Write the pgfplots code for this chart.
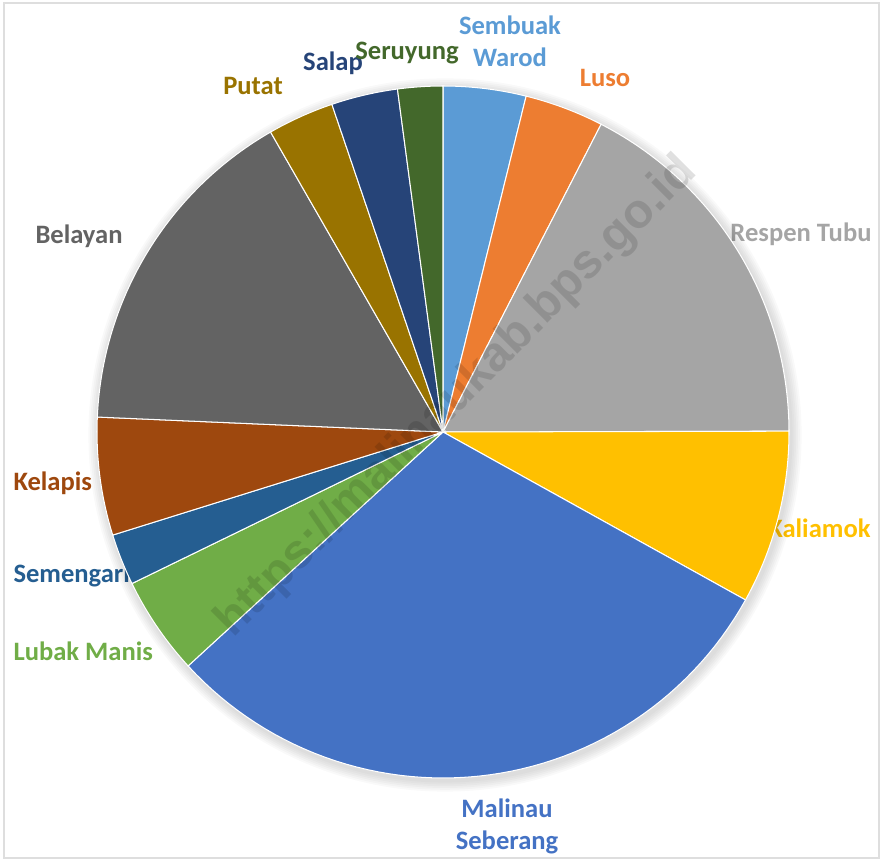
\documentclass[border=0pt]{standalone}
\usepackage{pgfplots}
\usepackage{pgfplotstable}
\usepackage{fontspec}
\setmainfont{Carlito}
\newfontfamily\wmfont{Liberation Sans}
\pgfplotsset{compat=1.18}

% slice shares, clockwise from 12 o'clock
\pgfplotstableread[col sep=comma]{
name,value
Sembuak Warod,3.86
Luso,3.69
Respen Tubu,17.4
Kaliamok,8.1
Malinau Seberang,30.1
Lubak Manis,4.6
Semengaris,2.4
Kelapis,5.5
Belayan,16.0
Putat,3.1
Salap,3.1
Seruyung,2.1
}\piedata

% cumulative angles
\xdef\pietotal{0}
\pgfplotstableforeachcolumnelement{value}\of\piedata\as\pieval{%
  \pgfmathsetmacro\tmp{\pietotal+\pieval}\xdef\pietotal{\tmp}}
\xdef\piecum{0}
\pgfplotstableforeachcolumnelement{value}\of\piedata\as\pieval{%
  \pgfmathsetmacro\tmp{90-360/\pietotal*\piecum}%
  \expandafter\xdef\csname sa\pgfplotstablerow\endcsname{\tmp}%
  \pgfmathsetmacro\tmp{\piecum+\pieval}\xdef\piecum{\tmp}%
  \pgfmathsetmacro\tmp{90-360/\pietotal*\piecum}%
  \expandafter\xdef\csname ea\pgfplotstablerow\endcsname{\tmp}}

\definecolor{c0}{HTML}{5B9BD5}
\definecolor{c1}{HTML}{ED7D31}
\definecolor{c2}{HTML}{A5A5A5}
\definecolor{c3}{HTML}{FFC000}
\definecolor{c4}{HTML}{4472C4}
\definecolor{c5}{HTML}{70AD47}
\definecolor{c6}{HTML}{255E91}
\definecolor{c7}{HTML}{9E480E}
\definecolor{c8}{HTML}{636363}
\definecolor{c9}{HTML}{997300}
\definecolor{c10}{HTML}{264478}
\definecolor{c11}{HTML}{43682B}

\begin{document}
\begin{tikzpicture}
\begin{axis}[
    scale only axis,
    width=12cm, height=11.7cm,
    xmin=0, xmax=881, ymin=0, ymax=859,
    hide axis, clip=false,
]
\draw[black!13, line width=0.8pt] (4,1) rectangle (879,856);

% labels
\begin{scope}[font=\fontsize{10.3}{12.4}\selectfont\bfseries, inner sep=0pt]
\node[text=c0, align=center] at (510,818) {Sembuak\\Warod};
\node[text=c1] at (605,781) {Luso};
\node[text=c2, anchor=east] at (872,625) {Respen Tubu};
\node[text=c3, anchor=east] at (871,331) {Kaliamok};
\node[text=c4, align=center] at (507,33) {Malinau\\Seberang};
\node[text=c5, anchor=west] at (13,208) {Lubak Manis};
\node[text=c6, anchor=west] at (13,284) {Semengaris};
\node[text=c7, anchor=west] at (13,376) {Kelapis};
\node[text=c8, anchor=west] at (35,623) {Belayan};
\node[text=c9] at (253,773) {Putat};
\node[text=c10] at (333,796) {Salap};
\node[text=c11] at (407,806) {Seruyung};
\end{scope}

% soft shadow
\pgfplotsinvokeforeach{1,...,6}{
  \fill[black, opacity=0.025] (445,424) circle[radius=134pt+#1*0.7pt];
}

% slices
\pgfplotsinvokeforeach{0,...,11}{
  \edef\temp{\noexpand\fill[c#1, draw=white, line width=0.4pt] (443,427) --
    plot[domain=\csname sa#1\endcsname:\csname ea#1\endcsname, samples=60]
    ({443+346*cos(\noexpand\x)},{427+346*sin(\noexpand\x)}) -- cycle;}
  \temp
}

% watermark
\node[rotate=45, text=black, opacity=0.12,
      font=\wmfont\fontsize{18.8}{20}\selectfont\bfseries] at (457,462)
      {https://malinaukab.bps.go.id};
\end{axis}
\pgfresetboundingbox
\path (current axis.south west) rectangle (current axis.north east);
\end{tikzpicture}
\end{document}
